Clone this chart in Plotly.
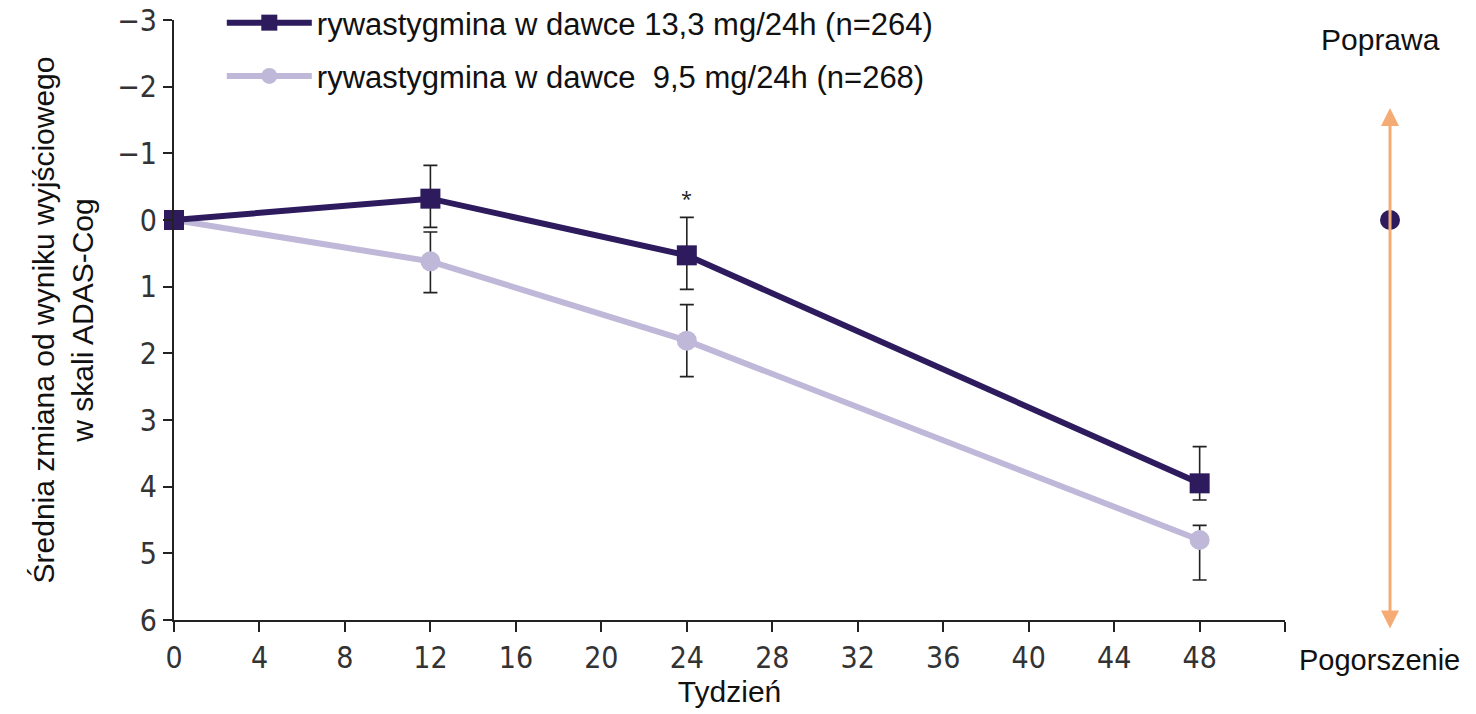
import plotly.graph_objects as go

# ---- data ----
weeks = [0, 12, 24, 48]
high_dose_name = "rywastygmina w dawce 13,3 mg/24h (n=264)"
high_dose_mean = [0.0, -0.32, 0.53, 3.95]
high_dose_err_plus = [0.0, 0.43, 0.51, 0.25]   # toward worse (down on the chart)
high_dose_err_minus = [0.0, 0.50, 0.57, 0.55]  # toward better (up on the chart)

low_dose_name = "rywastygmina w dawce\u00a0 9,5 mg/24h (n=268)"
low_dose_mean = [0.0, 0.62, 1.81, 4.80]
low_dose_err_plus = [0.0, 0.47, 0.54, 0.60]
low_dose_err_minus = [0.0, 0.44, 0.54, 0.22]

x_tickvals = [0, 4, 8, 12, 16, 20, 24, 28, 32, 36, 40, 44, 48, 52]
x_ticktext = ["0", "4", "8", "12", "16", "20", "24", "28", "32", "36", "40", "44", "48", ""]
y_tickvals = [-3, -2, -1, 0, 1, 2, 3, 4, 5, 6]
y_ticktext = ["\u22123", "\u22122", "\u22121", "0", "1", "2", "3", "4", "5", "6"]

significant_week = 24
significant_level = -0.32
baseline_value = 0

# ---- style ----
DARK = "#2d1b5e"
LIGHT = "#c0b8d8"
ORANGE = "#f5ac74"
AXIS = "#222222"
TICK_FONT = dict(family="Liberation Sans Narrow, DejaVu Sans Condensed, sans-serif", size=30, color="#333333")
TEXT_FONT = dict(family="Liberation Sans, Arial, sans-serif", size=30, color="#111111")
LEGEND_FONT = dict(family="Liberation Sans, Arial, sans-serif", size=31, color="#111111")

fig = go.Figure()

fig.add_trace(go.Scatter(
    x=weeks, y=low_dose_mean, name=low_dose_name, mode="lines+markers",
    line=dict(color=LIGHT, width=6),
    marker=dict(symbol="circle", size=20, color=LIGHT),
    error_y=dict(type="data", symmetric=False, array=low_dose_err_plus,
                 arrayminus=low_dose_err_minus, color=AXIS, thickness=1.6, width=7),
    cliponaxis=False, legendgroup="b", legendrank=2,
))
fig.add_trace(go.Scatter(
    x=weeks, y=high_dose_mean, name=high_dose_name, mode="lines+markers",
    line=dict(color=DARK, width=6),
    marker=dict(symbol="square", size=20, color=DARK),
    error_y=dict(type="data", symmetric=False, array=high_dose_err_plus,
                 arrayminus=high_dose_err_minus, color=AXIS, thickness=1.6, width=7),
    cliponaxis=False, legendgroup="a", legendrank=1,
))

# baseline dot on the side scale (Poprawa / Pogorszenie)
fig.add_trace(go.Scatter(
    x=[0], y=[baseline_value], xaxis="x2", yaxis="y", mode="markers",
    marker=dict(size=20, color=DARK), showlegend=False, cliponaxis=False,
    hoverinfo="skip",
))

fig.add_annotation(x=significant_week, y=significant_level, xref="x", yref="y",
                   text="*", showarrow=False, font=dict(size=20, color="#222"))

# improvement / worsening arrow
fig.add_annotation(x=0, y=-1.68, xref="x2", yref="y", ax=0, ay=522,
                   text="", showarrow=True, arrowside="end+start",
                   arrowhead=2, arrowsize=1.2, arrowwidth=3, arrowcolor=ORANGE)
fig.add_annotation(x=-10, y=0.967, xref="x2", yref="paper", yanchor="middle",
                   xanchor="center", text="Poprawa", showarrow=False, font=TEXT_FONT)
fig.add_annotation(x=-11, y=-0.067, xref="x2", yref="paper", yanchor="middle",
                   xanchor="center", text="Pogorszenie", showarrow=False,
                   font=dict(TEXT_FONT, size=29))

fig.update_layout(
    width=1476, height=714,
    margin=dict(l=174, r=10, t=20, b=94, autoexpand=False),
    paper_bgcolor="white", plot_bgcolor="white",
    showlegend=True,
    legend=dict(x=0.037, y=1.04, xanchor="left", yanchor="top",
                font=LEGEND_FONT, bgcolor="rgba(0,0,0,0)",
                itemwidth=85, tracegroupgap=10, traceorder="grouped"),
    xaxis=dict(domain=[0, 0.86], range=[0, 52], tickvals=x_tickvals, ticktext=x_ticktext,
               showline=True, linecolor=AXIS, linewidth=2, ticks="outside",
               ticklen=10, tickwidth=2, tickcolor=AXIS, showgrid=False, zeroline=False,
               tickfont=TICK_FONT, automargin=False, ticklabeloverflow="allow",
               title=dict(text="Tydzień", font=TEXT_FONT, standoff=6)),
    xaxis2=dict(domain=[0.87, 1.0], range=[-92, 76], visible=False),
    yaxis=dict(range=[6, -3], tickvals=y_tickvals, ticktext=y_ticktext,
               showline=True, linecolor=AXIS, linewidth=2, ticks="outside",
               ticklen=9, tickwidth=2, tickcolor=AXIS, showgrid=False, zeroline=False,
               tickfont=TICK_FONT, automargin=False, ticklabeloverflow="allow",
               title=dict(text="Średnia zmiana od wyniku wyjściowego<br>w skali ADAS-Cog",
                          font=TEXT_FONT, standoff=15)),
)

fig.write_html("out.html", config={"displayModeBar": False},
               post_script="document.body.style.margin='0';")
